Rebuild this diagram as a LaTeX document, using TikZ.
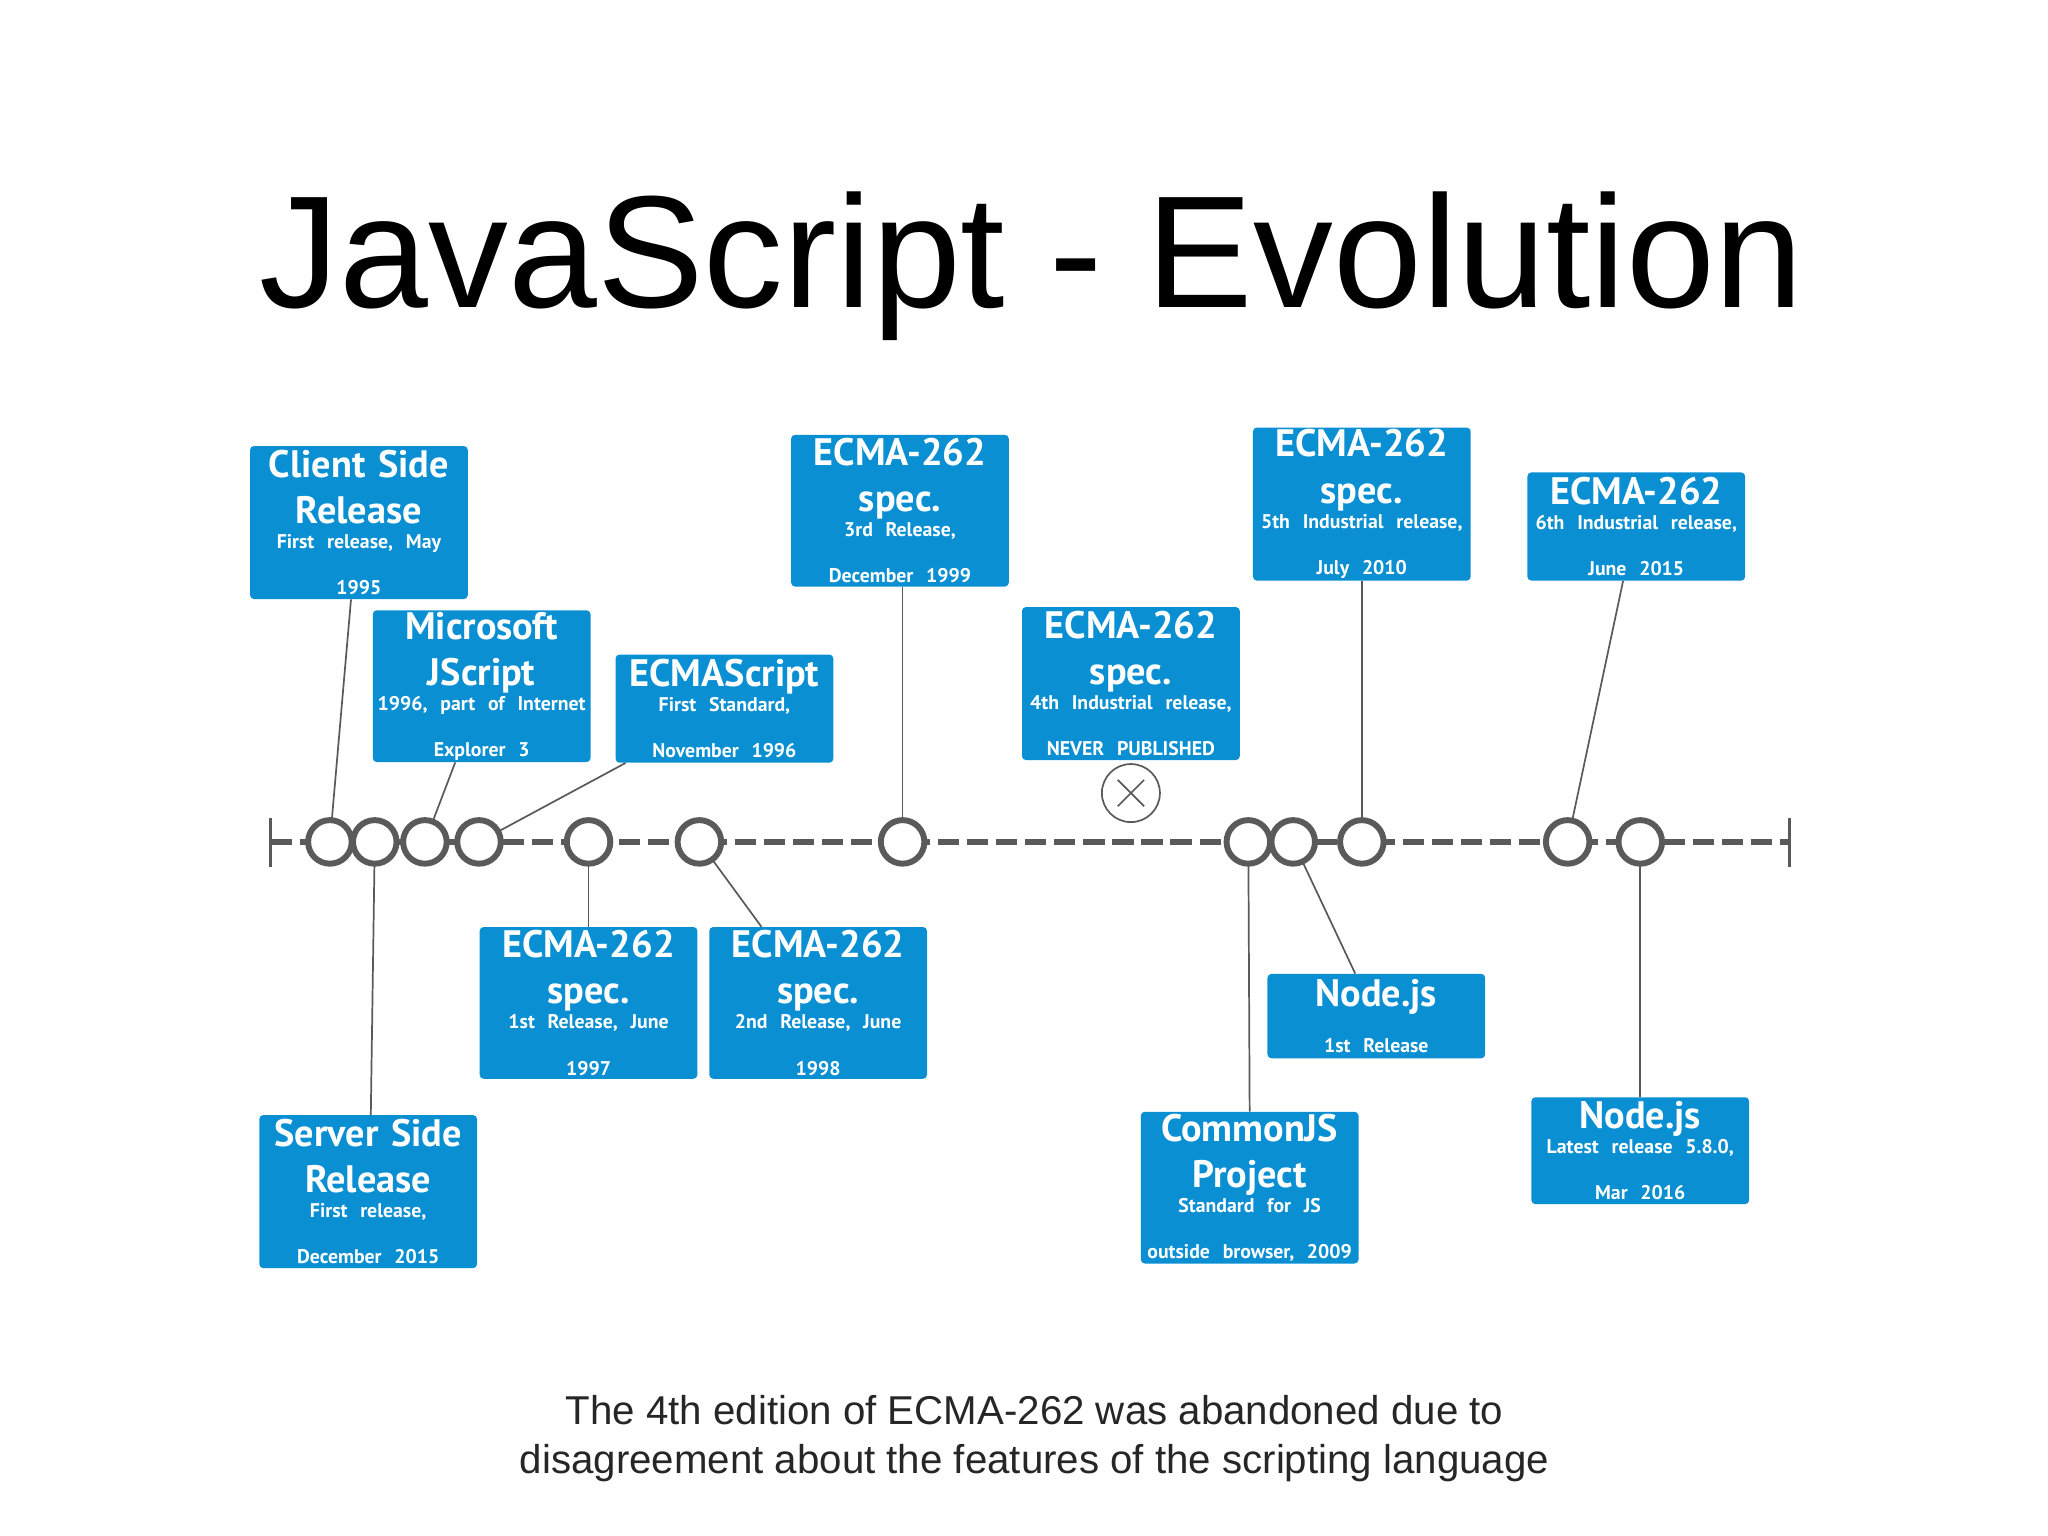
\documentclass[tikz,border=0pt]{standalone}
\usepackage{fontspec}
\setmainfont{Liberation Sans}
\newfontfamily\boxfont{PT Sans}
\definecolor{boxblue}{HTML}{0A8FD3}
\definecolor{tl}{HTML}{5A5A5A}
\newcommand{\stt}{\fontsize{15}{19}\selectfont}
\begin{document}
\begin{tikzpicture}[x=1pt,y=-1pt,
  ev/.style={fill=boxblue,rounded corners=3pt,text=white,align=center,inner sep=0pt,
    text width=162pt,minimum width=165pt,font=\boxfont\bfseries\fontsize{29}{35}\selectfont},
  dot/.style={circle,draw=tl,line width=4.5pt,fill=white,minimum size=33pt,inner sep=0pt},
  conn/.style={draw=tl,line width=1.3pt}]
\useasboundingbox (0,0) rectangle (1552,1164);
\node[font=\fontsize{121}{130}\selectfont,anchor=base] (title) at (782,233) {JavaScript - Evolution};
% timeline
\coordinate (tl0) at (205,638); \coordinate (tl1) at (1356,638);
\draw[tl,line width=4pt,dash pattern=on 16pt off 6pt] (tl0) -- (tl1);
\draw[tl,line width=2.5pt] (205,620) -- (205,657);
\draw[tl,line width=2.5pt] (1356,620) -- (1356,657);
% boxes
\node[ev,minimum height=116pt] (b1) at (272,396) {Client Side\\Release\\\stt First release, May\\\stt 1995};
\node[ev,minimum height=115pt] (b2) at (365,520) {Microsoft\\JScript\\\stt 1996, part of Internet\\\stt Explorer 3};
\node[ev,minimum height=82pt] (b3) at (549,537) {ECMAScript\\\stt First Standard,\\\stt November 1996};
\node[ev,minimum height=115pt] (b4) at (682,387) {ECMA-262\\spec.\\\stt 3rd Release,\\\stt December 1999};
\node[ev,minimum height=116pt] (b5) at (857,518) {ECMA-262\\spec.\\\stt 4th Industrial release,\\\stt NEVER PUBLISHED};
\node[ev,minimum height=116pt] (b6) at (1032,382) {ECMA-262\\spec.\\\stt 5th Industrial release,\\\stt July 2010};
\node[ev,minimum height=82pt] (b7) at (1240,399) {ECMA-262\\\stt 6th Industrial release,\\\stt June 2015};
\node[ev,minimum height=116pt] (b8) at (279,903) {Server Side\\Release\\\stt First release,\\\stt December 2015};
\node[ev,minimum height=115pt] (b9) at (446,760) {ECMA-262\\spec.\\\stt 1st Release, June\\\stt 1997};
\node[ev,minimum height=115pt] (b10) at (620,760) {ECMA-262\\spec.\\\stt 2nd Release, June\\\stt 1998};
\node[ev,minimum height=64pt] (b11) at (1043,770) {Node.js\\\stt 1st Release};
\node[ev,minimum height=115pt] (b12) at (947,900) {CommonJS\\Project\\\stt Standard for JS\\\stt outside browser, 2009};
\node[ev,minimum height=81pt] (b13) at (1243,872) {Node.js\\\stt Latest release 5.8.0,\\\stt Mar 2016};
% connectors
\coordinate (p1) at (250,638); \coordinate (p2) at (284,638); \coordinate (p3) at (322,638);
\coordinate (p4) at (363,638); \coordinate (p5) at (446,638); \coordinate (p6) at (530,638);
\coordinate (p7) at (684,638); \coordinate (p8) at (946,638); \coordinate (p9) at (980,638);
\coordinate (p10) at (1032,638); \coordinate (p11) at (1188,638); \coordinate (p12) at (1243,638);
\draw[conn] ([xshift=-6pt]b1.south) -- (p1);
\draw[conn] ([xshift=-20pt]b2.south) -- (p3);
\draw[conn] ([xshift=-75pt]b3.south) -- (p4);
\draw[conn] ([xshift=2pt]b4.south) -- (p7);
\draw[conn] (b6.south) -- (p10);
\draw[conn] ([xshift=-10pt]b7.south) -- (p11);
\draw[conn] ([xshift=2pt]b8.north) -- (p2);
\draw[conn] (b9.north) -- (p5);
\draw[conn] ([xshift=-43pt]b10.north) -- (p6);
\draw[conn] ([xshift=-16pt]b11.north) -- (p9);
\draw[conn] (b12.north) -- (p8);
\draw[conn] (b13.north) -- (p12);
% circles
\foreach \i in {1,...,12} \node[dot] (c\i) at (p\i) {};
% abandoned marker
\node[circle,draw=tl,line width=1.3pt,minimum size=44pt,inner sep=0pt] (x4) at (857,601) {};
\draw[tl,line width=1.3pt] ([shift={(-10pt,-10pt)}]x4.center) -- ([shift={(10pt,10pt)}]x4.center);
\draw[tl,line width=1.3pt] ([shift={(-10pt,10pt)}]x4.center) -- ([shift={(10pt,-10pt)}]x4.center);
% caption
\node[font=\fontsize{30.5}{37}\selectfont,align=center,text=black!85] (cap) at (784,1090) {The 4th edition of ECMA-262 was abandoned due to\\disagreement about the features of the scripting language};
\end{tikzpicture}
\end{document}
